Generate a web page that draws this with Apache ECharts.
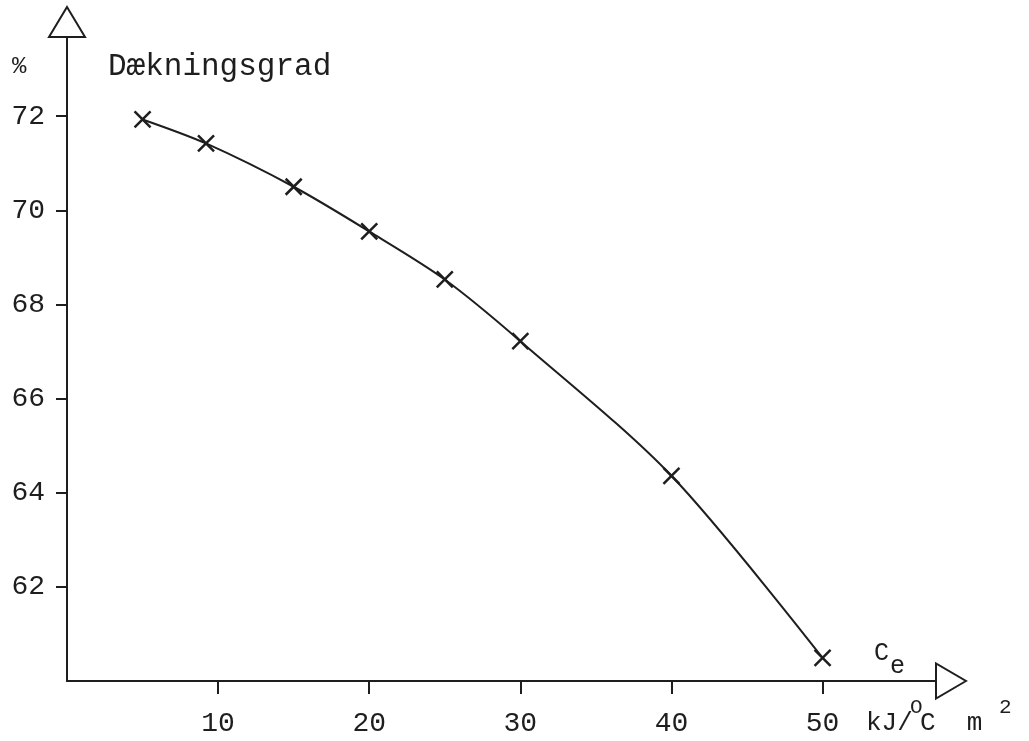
<!DOCTYPE html>
<html>
<head>
<meta charset="utf-8">
<script src="https://cdn.jsdelivr.net/npm/echarts@6/dist/echarts.min.js"></script>
<style>
html,body{margin:0;padding:0;background:#fff;}
#chart{width:1029px;height:741px;}
</style>
</head>
<body>
<div id="chart"></div>
<script>
// ---- data ----
const capacity = [5, 9.2, 15, 20, 25, 30, 40, 50];              // C_e, kJ/°C m²
const coverage = [71.93, 71.42, 70.50, 69.55, 68.53, 67.22, 64.36, 60.49]; // Dækningsgrad, %
const xTickValues = [10, 20, 30, 40, 50];
const yTickValues = [62, 64, 66, 68, 70, 72];
const yTitle = 'Dækningsgrad';
const yUnit = '%';
const xSymbol = 'C';
const xSubscript = 'e';
const xUnitParts = ['kJ/', 'O', 'C  m', '2'];

const FONT = '"Liberation Mono", "DejaVu Sans Mono", monospace';
const INK = '#1e1e1e';

const chart = echarts.init(document.getElementById('chart'));

const points = capacity.map((x, i) => [x, coverage[i]]);

chart.setOption({
  backgroundColor: '#ffffff',
  animation: false,
  grid: { left: 67, right: 78, top: 22, bottom: 60, containLabel: false },
  xAxis: {
    type: 'value',
    min: 0,
    max: 58.5,
    splitLine: { show: false },
    axisLine: {
      show: true, onZero: false,
      symbol: ['none', 'emptyTriangle'],
      symbolSize: [35, 30],
      lineStyle: { color: INK, width: 2 }
    },
    axisTick: {
      show: true, inside: false, length: 13,
      customValues: xTickValues,
      lineStyle: { color: INK, width: 2 }
    },
    axisLabel: {
      show: true, margin: 29,
      customValues: xTickValues,
      fontFamily: FONT, fontSize: 28, color: INK
    }
  },
  yAxis: {
    type: 'value',
    min: 60,
    max: 74,
    splitLine: { show: false },
    axisLine: {
      show: true, onZero: false,
      symbol: ['none', 'emptyTriangle'],
      symbolSize: [36, 30],
      lineStyle: { color: INK, width: 2 }
    },
    axisTick: {
      show: true, inside: false, length: 11,
      customValues: yTickValues,
      lineStyle: { color: INK, width: 2 }
    },
    axisLabel: {
      show: true, margin: 22,
      customValues: yTickValues,
      fontFamily: FONT, fontSize: 28, color: INK
    }
  },
  series: [{
    type: 'line',
    data: points,
    smooth: 0.3,
    symbol: 'path://M0,0L10,10M10,0L0,10',
    symbolSize: 16,
    showAllSymbol: true,
    lineStyle: { color: INK, width: 2 },
    itemStyle: { color: INK, borderColor: INK, borderWidth: 2.5 },
    z: 3
  }],
  graphic: [
    { type: 'text', left: 12, top: 55, style: { text: yUnit, font: '24px ' + FONT, fill: INK } },
    { type: 'text', left: 108, top: 51, style: { text: yTitle, font: '31px ' + FONT, fill: INK } },
    { type: 'text', left: 874, top: 641, style: { text: xSymbol, font: '25px ' + FONT, fill: INK } },
    { type: 'text', left: 890, top: 654, style: { text: xSubscript, font: '25px ' + FONT, fill: INK } },
    { type: 'text', left: 866, top: 710, style: { text: xUnitParts[0], font: '26px ' + FONT, fill: INK } },
    { type: 'text', left: 910, top: 697, style: { text: xUnitParts[1], font: '21px ' + FONT, fill: INK } },
    { type: 'text', left: 920, top: 710, style: { text: xUnitParts[2], font: '26px ' + FONT, fill: INK } },
    { type: 'text', left: 999, top: 697, style: { text: xUnitParts[3], font: '21px ' + FONT, fill: INK } }
  ]
});
</script>
</body>
</html>
